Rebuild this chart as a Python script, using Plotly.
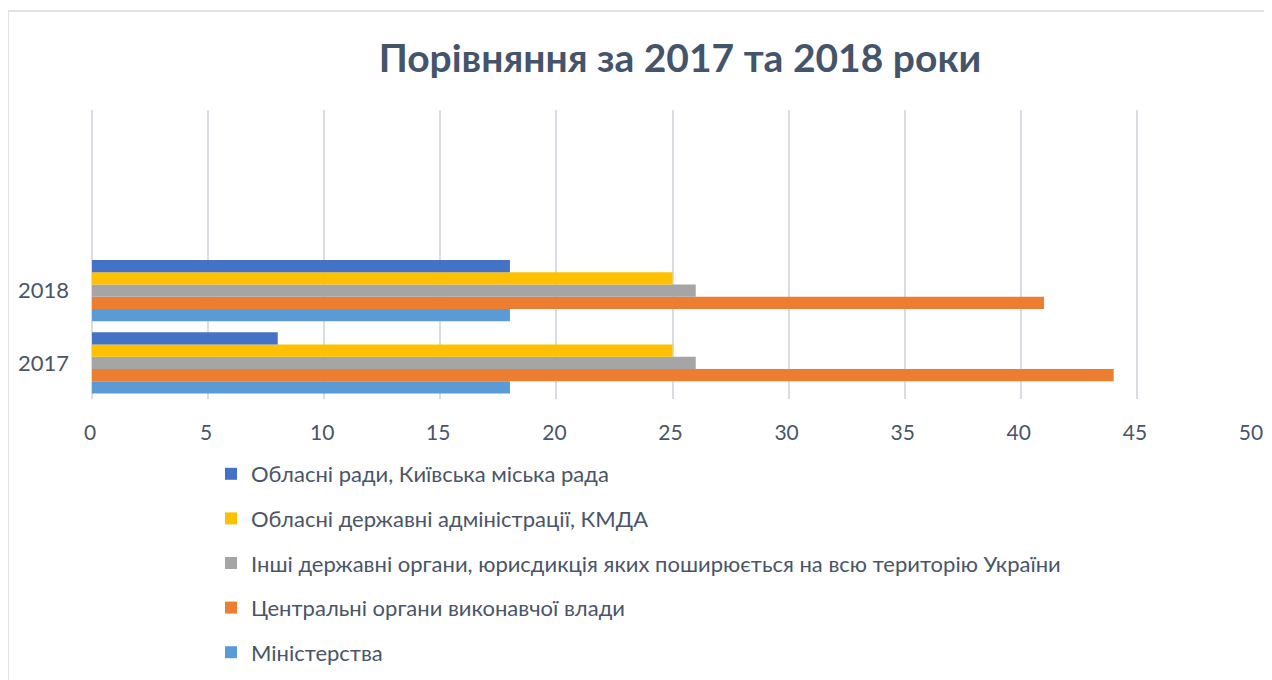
import plotly.graph_objects as go

years = ["2017", "2018"]
series_names = [
    "Міністерства",
    "Центральні органи виконавчої влади",
    "Інші державні органи, юрисдикція яких поширюється на всю територію України",
    "Обласні державні адміністрації, КМДА",
    "Обласні ради, Київська міська рада",
]
ministries = [18, 18]
central_exec = [44, 41]
other_bodies = [26, 26]
regional_admin = [25, 25]
regional_councils = [8, 18]
series_values = [ministries, central_exec, other_bodies, regional_admin, regional_councils]
colors = ["#5B9BD5", "#ED7D31", "#A5A5A5", "#FFC000", "#4472C4"]
x_ticks = [0, 5, 10, 15, 20, 25, 30, 35, 40, 45, 50]

TEXT = "#4A5568"
FONT = "Lato"

# page has an 8px body margin; coordinates below are in figure pixels
OFF = 8
W, H = 1264, 672
L, R, T, B = 84, 19, 102, 281
pw, ph = W - L - R, H - T - B

def px_x(p):
    return (p - OFF - L) / pw

def px_y(p):
    return (H - B - (p - OFF)) / ph

fig = go.Figure()
n = len(series_names)
for i, (name, vals, col) in enumerate(zip(series_names, series_values, colors)):
    fig.add_trace(go.Bar(
        y=years, x=vals, name=name, orientation="h",
        marker=dict(color=col, line=dict(width=0)),
        legendgroup=name, legendrank=n - i,
    ))

fig.update_layout(
    width=W, height=H,
    margin=dict(l=L, r=R, t=T, b=B, autoexpand=False),
    paper_bgcolor="white", plot_bgcolor="white",
    barmode="group", bargap=0.15, bargroupgap=0,
    font=dict(family=FONT, color=TEXT, size=22),
    title=dict(text="<b>Порівняння за 2017 та 2018 роки</b>",
               x=(680 - OFF) / W, xanchor="center", xref="container",
               y=1 - (58 - OFF) / H, yanchor="middle", yref="container",
               font=dict(family=FONT, size=39, color="#44546A")),
    xaxis=dict(range=[0, 50], tickvals=x_ticks, showgrid=True,
               gridcolor="#D9DDE3", gridwidth=1.5, zeroline=True,
               zerolinecolor="#D9DDE3", zerolinewidth=1.5,
               showline=False, ticks="", tickfont=dict(size=21, color=TEXT),
               ticklabelstandoff=19, ticklabelshift=-2, fixedrange=True),
    yaxis=dict(type="category", categoryorder="array", categoryarray=years,
               range=[-0.5, 3.5], showgrid=False, zeroline=False, showline=False,
               ticks="", tickfont=dict(size=22, color=TEXT),
               ticklabelstandoff=22, fixedrange=True),
    legend=dict(orientation="v", x=px_x(211), xanchor="left",
                y=px_y(453), yanchor="top",
                traceorder="grouped", tracegroupgap=13,
                font=dict(size=22, color=TEXT, family=FONT),
                bgcolor="rgba(0,0,0,0)", itemwidth=30),
    showlegend=True,
    shapes=[dict(type="rect", xref="paper", yref="paper",
                 x0=px_x(8), x1=px_x(1300), y0=px_y(700), y1=px_y(11),
                 line=dict(color="#D9D9D9", width=1.5), fillcolor="rgba(0,0,0,0)",
                 layer="below")],
)

fig.write_html("out.html")
